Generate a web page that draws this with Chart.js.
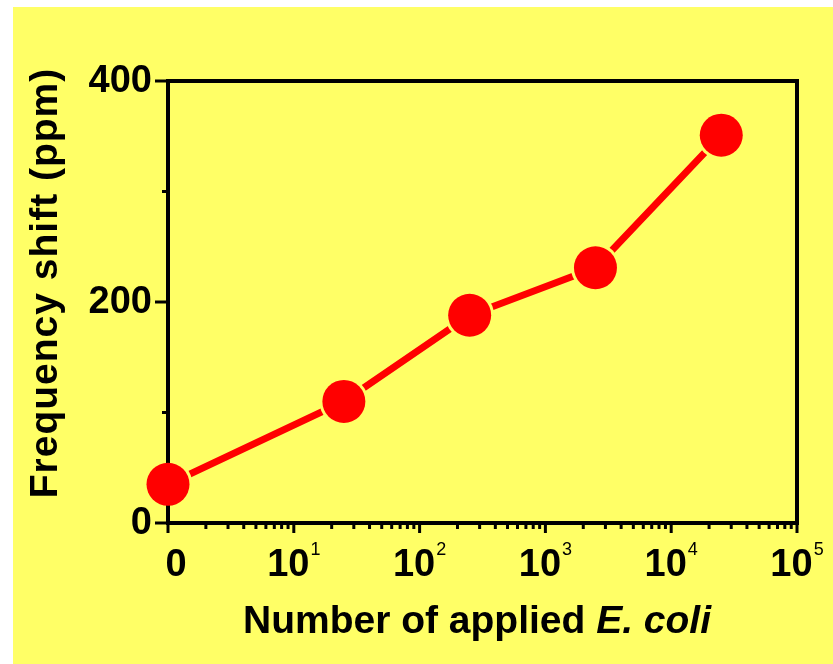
<!DOCTYPE html>
<html>
<head>
<meta charset="utf-8">
<script src="https://cdn.jsdelivr.net/npm/chart.js@4.4.1/dist/chart.umd.min.js"></script>
<style>
  body { margin: 0; background: #fff; }
  #wrap { position: absolute; left: 13px; top: 7px; width: 820px; height: 657px; background: #FFFF66; }
</style>
</head>
<body>
<div id="wrap"><canvas id="shiftChart" width="820" height="657"></canvas></div>
<script>
// ------------------------- DATA ----------------------------------------------

// number of applied E. coli (the "0" sample sits at 10^0 on the log axis)
var cellCounts = [1, 25, 250, 2500, 25000];
// frequency shift in ppm
var freqShift = [35, 110, 188, 231, 351];

// x tick labels: base text + superscript exponent
var xTickValues = [1, 10, 100, 1000, 10000, 100000];
var xTickBase = ['0', '10', '10', '10', '10', '10'];
var xTickSup = ['', '1', '2', '3', '4', '5'];

// y tick labels
var yTickValues = [0, 200, 400];
var yMinorValues = [100, 300];

var xTitle = 'Number of applied ';
var xTitleItalic = 'E. coli';
var yTitle = 'Frequency shift (ppm)';

// ------------------------- STYLE ---------------------------------------------

var yellow = '#FFFF66';
var red = '#FF0000';
var fontFamily = "'Liberation Sans', Arial, sans-serif";

// ------------------------- AXES PLUGIN ---------------------------------------

// draws the frame, ticks, labels and titles once the line dataset is down,
// so the red markers end up on top of the axis
var axesPlugin = {
  id: 'axesPlugin',
  afterDatasetDraw: function(chart, args) {
    if (args.index !== 1) return;
    var ctx = chart.ctx;
    var area = chart.chartArea;
    var xs = chart.scales.x;
    var ys = chart.scales.y;

    ctx.save();
    ctx.strokeStyle = '#000';
    ctx.fillStyle = '#000';

    // frame
    ctx.lineWidth = 4;
    ctx.strokeRect(area.left, area.top, area.right - area.left, area.bottom - area.top);

    // x minor ticks (2..9 in each decade)
    ctx.lineWidth = 3;
    for (var d = 0; d < xTickValues.length - 1; d++) {
      for (var m = 2; m < 10; m++) {
        var mx = xs.getPixelForValue(xTickValues[d] * m);
        ctx.beginPath();
        ctx.moveTo(mx, area.bottom);
        ctx.lineTo(mx, area.bottom + 6);
        ctx.stroke();
      }
    }

    // x major ticks and labels
    for (var i = 0; i < xTickValues.length; i++) {
      var tx = xs.getPixelForValue(xTickValues[i]);
      ctx.lineWidth = 3;
      ctx.beginPath();
      ctx.moveTo(tx, area.bottom);
      ctx.lineTo(tx, area.bottom + 10);
      ctx.stroke();

      ctx.font = 'bold 38px ' + fontFamily;
      var baseW = ctx.measureText(xTickBase[i]).width;
      ctx.font = '18px ' + fontFamily;
      var supW = xTickSup[i] ? ctx.measureText(xTickSup[i]).width + 1 : 0;
      var shift = xTickSup[i] ? 0 : 8;   // the 0 label sits a little right of its tick
      var startX = tx - (baseW + supW) / 2 + shift;

      ctx.textAlign = 'left';
      ctx.textBaseline = 'alphabetic';
      ctx.font = 'bold 38px ' + fontFamily;
      ctx.fillText(xTickBase[i], startX, area.bottom + 53);
      if (xTickSup[i]) {
        ctx.font = '18px ' + fontFamily;
        ctx.fillText(xTickSup[i], startX + baseW + 1, area.bottom + 32);
      }
    }

    // y ticks and labels
    ctx.lineWidth = 3;
    for (var j = 0; j < yMinorValues.length; j++) {
      var my = ys.getPixelForValue(yMinorValues[j]);
      ctx.beginPath();
      ctx.moveTo(area.left, my);
      ctx.lineTo(area.left - 6, my);
      ctx.stroke();
    }
    ctx.font = 'bold 38px ' + fontFamily;
    ctx.textAlign = 'right';
    ctx.textBaseline = 'middle';
    for (var k = 0; k < yTickValues.length; k++) {
      var ty = ys.getPixelForValue(yTickValues[k]);
      ctx.beginPath();
      ctx.moveTo(area.left, ty);
      ctx.lineTo(area.left - 13, ty);
      ctx.stroke();
      ctx.fillText(String(yTickValues[k]), area.left - 16, ty + 1);
    }

    // x title, upright part + italic part
    ctx.textAlign = 'left';
    ctx.textBaseline = 'alphabetic';
    ctx.font = 'bold 39px ' + fontFamily;
    var w1 = ctx.measureText(xTitle).width;
    ctx.font = 'italic bold 39px ' + fontFamily;
    var w2 = ctx.measureText(xTitleItalic).width;
    var titleX = 464 - (w1 + w2) / 2;
    ctx.font = 'bold 39px ' + fontFamily;
    ctx.fillText(xTitle, titleX, 626);
    ctx.font = 'italic bold 39px ' + fontFamily;
    ctx.fillText(xTitleItalic, titleX + w1, 626);

    // y title
    ctx.translate(44, 276);
    ctx.rotate(-Math.PI / 2);
    ctx.textAlign = 'center';
    ctx.font = 'bold 39px ' + fontFamily;
    ctx.letterSpacing = '1px';
    ctx.fillText(yTitle, 0, 0);

    ctx.restore();
  }
};

// ------------------------- CHART ---------------------------------------------

var points = cellCounts.map(function(c, i) { return {x: c, y: freqShift[i]}; });

var chart = new Chart(document.getElementById('shiftChart'), {
  type: 'line',
  data: {
    datasets: [
      {
        // red markers, drawn last
        data: points,
        showLine: false,
        pointRadius: 21.5,
        pointBackgroundColor: red,
        pointBorderWidth: 0,
        clip: false,
        order: 0
      },
      {
        // connecting line with yellow halos so it stops short of the markers
        data: points,
        borderColor: red,
        borderWidth: 7,
        tension: 0,
        pointRadius: 24.5,
        pointBackgroundColor: yellow,
        pointBorderWidth: 0,
        clip: false,
        order: 1
      }
    ]
  },
  options: {
    responsive: false,
    animation: false,
    layout: { padding: { left: 155, top: 74, right: 36, bottom: 141 } },
    plugins: { legend: { display: false }, tooltip: { enabled: false } },
    scales: {
      x: { type: 'logarithmic', min: 1, max: 100000, display: false },
      y: { type: 'linear', min: 0, max: 400, display: false }
    }
  },
  plugins: [axesPlugin]
});
</script>
</body>
</html>
